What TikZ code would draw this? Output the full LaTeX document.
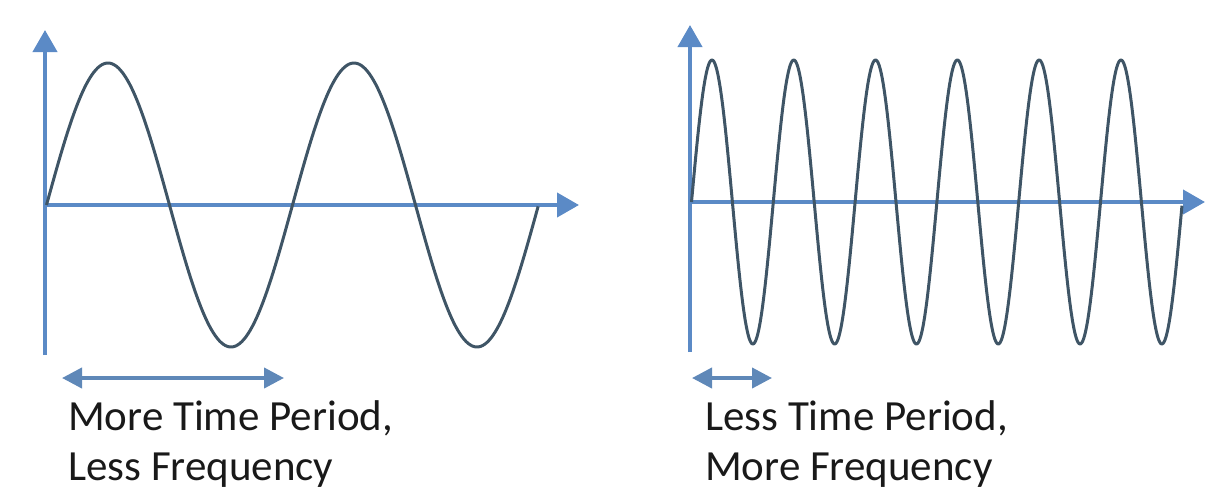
\documentclass[tikz,border=0pt]{standalone}
\usepackage{fontspec}
\setmainfont{Carlito}
\usetikzlibrary{arrows.meta}
\definecolor{axisblue}{HTML}{5B8AC6}
\definecolor{wavecol}{HTML}{3F5566}
\definecolor{spanblue}{HTML}{5F88B8}
\tikzset{
  axis/.style={draw=axisblue, line width=4pt, -{Triangle[length=22pt,width=24pt]}},
  wave/.style={draw=wavecol, line width=3pt, line join=round},
  span/.style={draw=spanblue, line width=4pt, {Triangle[length=20pt,width=20pt]}-{Triangle[length=20pt,width=20pt]}},
  label/.style={anchor=base west, inner sep=0pt, align=left, font=\fontsize{43}{50}\selectfont, text=black!90}
}
\begin{document}
\begin{tikzpicture}[x=1pt,y=-1pt]
\useasboundingbox (0,0) rectangle (1207,493);
% left panel
\coordinate (LO) at (45,205);
\coordinate (LYb) at (45,355);
\coordinate (LYt) at (45,30);
\coordinate (LXe) at (579,205);
\draw[axis] (LYb) -- (LYt);
\draw[axis] (LO) -- (LXe);
\draw[wave] plot[domain=0:2, samples=240, smooth] ({46.5+246*\x},{205-142*sin(360*\x)});
\coordinate (LA1) at (62,378);
\coordinate (LA2) at (284,378);
\draw[span] (LA1) -- (LA2);
\node[label] (LT) at (68,480) {More Time Period,\\Less Frequency};
% right panel
\coordinate (RO) at (690,202);
\coordinate (RYb) at (690,352);
\coordinate (RYt) at (690,25);
\coordinate (RXe) at (1205,202);
\draw[axis] (RYb) -- (RYt);
\draw[axis] (RO) -- (RXe);
\draw[wave] plot[domain=0:6, samples=600, smooth] ({691.5+81.8*\x},{202-142*sin(360*\x)});
\coordinate (RA1) at (692,378);
\coordinate (RA2) at (772,378);
\draw[span] (RA1) -- (RA2);
\node[label] (RT) at (705,480) {Less Time Period,\\More Frequency};
\end{tikzpicture}
\end{document}
